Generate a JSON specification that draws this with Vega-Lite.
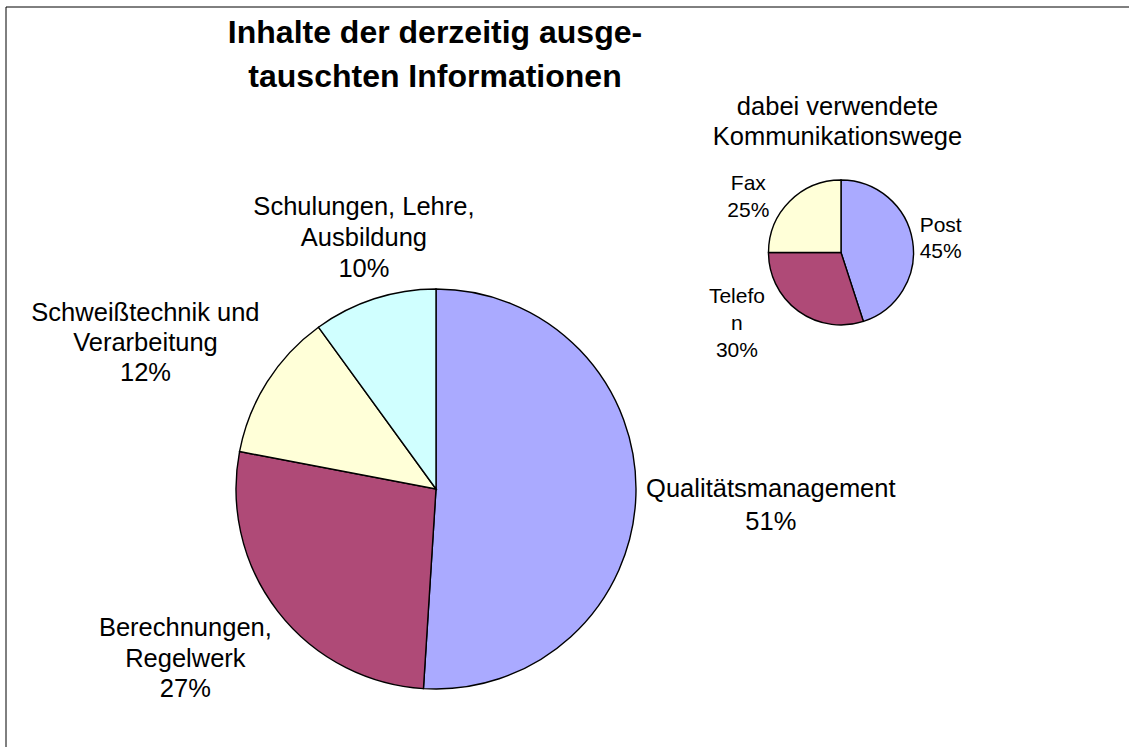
{
  "$schema": "https://vega.github.io/schema/vega-lite/v6.json",
  "width": 1123.5,
  "height": 740.5,
  "autosize": {"type": "none"},
  "padding": {"left": 5.5, "top": 6.5, "right": 0, "bottom": 0},
  "background": "white",
  "config": {
    "view": {"stroke": null, "strokeWidth": 0},
    "text": {"font": "Liberation Sans", "color": "black"},
    "axis": {"domainColor": "black", "domainWidth": 1, "ticks": false, "labels": false, "grid": false, "title": null}
  },
  "datasets": {
    "big": [
      {"chart": "big", "cat": "Qualitätsmanagement", "value": 51, "order": 1, "lines": ["Qualitätsmanagement", "51%"]},
      {"chart": "big", "cat": "Berechnungen, Regelwerk", "value": 27, "order": 2, "lines": ["Berechnungen,", "Regelwerk", "27%"]},
      {"chart": "big", "cat": "Schweißtechnik und Verarbeitung", "value": 12, "order": 3, "lines": ["Schweißtechnik und", "Verarbeitung", "12%"]},
      {"chart": "big", "cat": "Schulungen, Lehre, Ausbildung", "value": 10, "order": 4, "lines": ["Schulungen, Lehre,", "Ausbildung", "10%"]}
    ],
    "small": [
      {"chart": "small", "cat": "Post", "value": 45, "order": 1, "lines": ["Post", "45%"]},
      {"chart": "small", "cat": "Telefon", "value": 30, "order": 2, "lines": ["Telefo", "n", "30%"]},
      {"chart": "small", "cat": "Fax", "value": 25, "order": 3, "lines": ["Fax", "25%"]}
    ],
    "titles": [
      {"chart": "big", "kind": "main", "text": ["Inhalte der derzeitig ausge-", "tauschten Informationen"]},
      {"chart": "small", "kind": "sub", "text": ["dabei verwendete", "Kommunikationswege"]}
    ]
  },
  "encoding": {
    "x": {"field": "chart", "type": "nominal",
      "axis": {"orient": "top", "domain": true, "ticks": false, "labels": false, "title": null, "grid": false},
      "scale": {"type": "point", "domain": ["big", "small"], "padding": 0.887037, "align": 0.599165, "round": false}},
    "y": {"field": "chart", "type": "nominal",
      "axis": {"orient": "left", "domain": true, "ticks": false, "labels": false, "title": null, "grid": false},
      "scale": {"type": "band", "domain": ["small", "big"], "paddingInner": 0, "paddingOuter": 0.565539, "align": 0.47757, "round": false}}
  },
  "layer": [
    {
      "data": {"name": "big"},
      "mark": {"type": "arc", "radius": 200, "stroke": "black", "strokeWidth": 1.4},
      "encoding": {
        "theta": {"field": "value", "type": "quantitative", "stack": true},
        "order": {"field": "order", "type": "quantitative"},
        "color": {"field": "cat", "type": "nominal", "legend": null,
          "scale": {"domain": ["Qualitätsmanagement", "Berechnungen, Regelwerk", "Schweißtechnik und Verarbeitung", "Schulungen, Lehre, Ausbildung", "Post", "Telefon", "Fax"],
                    "range": ["#AAAAFF", "#AF4A77", "#FFFFD8", "#D0FFFF", "#AAAAFF", "#AF4A77", "#FFFFD8"]}}
      }
    },
    {
      "data": {"name": "big"},
      "mark": {"type": "text", "radius": 335, "dx": 0, "dy": -2.8, "fontSize": 25.5, "lineHeight": 33, "align": "center", "baseline": "alphabetic"},
      "encoding": {
        "theta": {"field": "value", "type": "quantitative", "stack": true},
        "order": {"field": "order", "type": "quantitative"},
        "text": {"condition": {"test": "datum.cat === 'Qualitätsmanagement'", "field": "lines", "type": "nominal"}, "value": ""}
      }
    },
    {
      "data": {"name": "big"},
      "mark": {"type": "text", "radius": 302, "dx": -12, "dy": -37.6, "fontSize": 25.5, "lineHeight": 30.2, "align": "center", "baseline": "alphabetic"},
      "encoding": {
        "theta": {"field": "value", "type": "quantitative", "stack": true},
        "order": {"field": "order", "type": "quantitative"},
        "text": {"condition": {"test": "datum.cat === 'Berechnungen, Regelwerk'", "field": "lines", "type": "nominal"}, "value": ""}
      }
    },
    {
      "data": {"name": "big"},
      "mark": {"type": "text", "radius": 323.5, "dx": -17.4, "dy": 5, "fontSize": 25.5, "lineHeight": 30, "align": "center", "baseline": "alphabetic"},
      "encoding": {
        "theta": {"field": "value", "type": "quantitative", "stack": true},
        "order": {"field": "order", "type": "quantitative"},
        "text": {"condition": {"test": "datum.cat === 'Schweißtechnik und Verarbeitung'", "field": "lines", "type": "nominal"}, "value": ""}
      }
    },
    {
      "data": {"name": "big"},
      "mark": {"type": "text", "radius": 261, "dx": 8.6, "dy": -25.9, "fontSize": 25.5, "lineHeight": 31, "align": "center", "baseline": "alphabetic"},
      "encoding": {
        "theta": {"field": "value", "type": "quantitative", "stack": true},
        "order": {"field": "order", "type": "quantitative"},
        "text": {"condition": {"test": "datum.cat === 'Schulungen, Lehre, Ausbildung'", "field": "lines", "type": "nominal"}, "value": ""}
      }
    },
    {
      "data": {"name": "small"},
      "mark": {"type": "arc", "radius": 72.5, "stroke": "black", "strokeWidth": 1.4},
      "encoding": {
        "theta": {"field": "value", "type": "quantitative", "stack": true},
        "order": {"field": "order", "type": "quantitative"},
        "color": {"field": "cat", "type": "nominal", "legend": null}
      }
    },
    {
      "data": {"name": "small"},
      "mark": {"type": "text", "radius": 100.6, "dx": 0.3, "dy": -5.1, "fontSize": 21, "lineHeight": 26.7, "align": "center", "baseline": "alphabetic"},
      "encoding": {
        "theta": {"field": "value", "type": "quantitative", "stack": true},
        "order": {"field": "order", "type": "quantitative"},
        "text": {"condition": {"test": "datum.cat === 'Post'", "field": "lines", "type": "nominal"}, "value": ""}
      }
    },
    {
      "data": {"name": "small"},
      "mark": {"type": "text", "radius": 119, "dx": -34.1, "dy": -45.5, "fontSize": 21, "lineHeight": 27, "align": "center", "baseline": "alphabetic"},
      "encoding": {
        "theta": {"field": "value", "type": "quantitative", "stack": true},
        "order": {"field": "order", "type": "quantitative"},
        "text": {"condition": {"test": "datum.cat === 'Telefon'", "field": "lines", "type": "nominal"}, "value": ""}
      }
    },
    {
      "data": {"name": "small"},
      "mark": {"type": "text", "radius": 104.6, "dx": -18.7, "dy": 11.5, "fontSize": 21, "lineHeight": 26.7, "align": "center", "baseline": "alphabetic"},
      "encoding": {
        "theta": {"field": "value", "type": "quantitative", "stack": true},
        "order": {"field": "order", "type": "quantitative"},
        "text": {"condition": {"test": "datum.cat === 'Fax'", "field": "lines", "type": "nominal"}, "value": ""}
      }
    },
    {
      "data": {"name": "titles"},
      "transform": [{"filter": "datum.kind === 'main'"}],
      "mark": {"type": "text", "dx": -1, "dy": -446.3, "fontSize": 32, "fontWeight": "bold", "lineHeight": 44.6, "align": "center", "baseline": "alphabetic"},
      "encoding": {"text": {"field": "text", "type": "nominal"}}
    },
    {
      "data": {"name": "titles"},
      "transform": [{"filter": "datum.kind === 'sub'"}],
      "mark": {"type": "text", "dx": -3.5, "dy": -137.5, "fontSize": 25.5, "lineHeight": 30, "align": "center", "baseline": "alphabetic"},
      "encoding": {"text": {"field": "text", "type": "nominal"}}
    }
  ]
}
